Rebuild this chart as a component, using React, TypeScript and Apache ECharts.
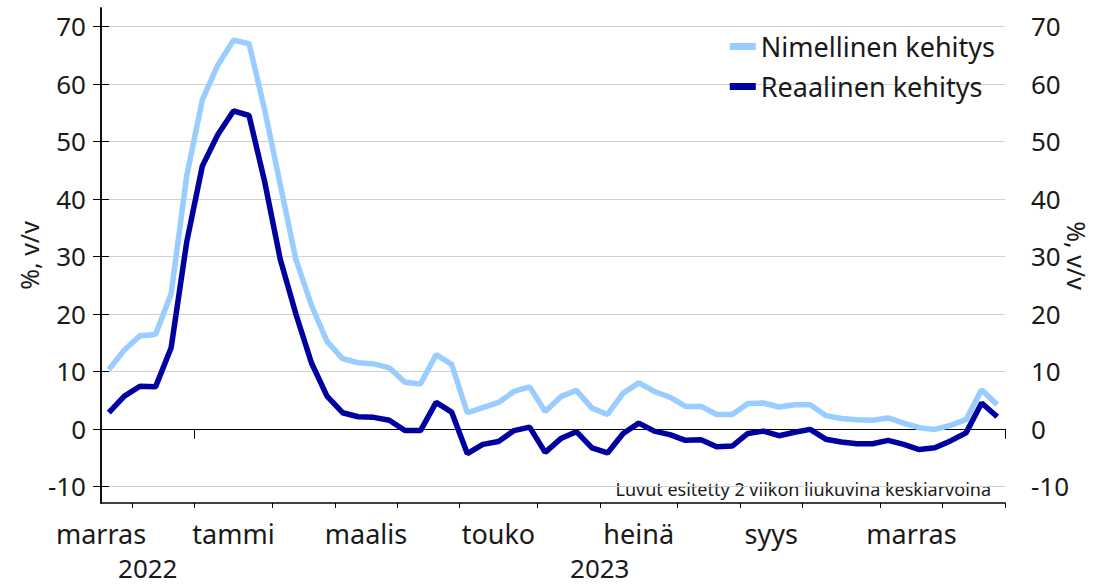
import React, { useEffect, useRef } from "react";
import * as echarts from "echarts";

// Weekly observations (Monday of each week)
const weeks: string[] = [
  "2022-11-21", "2022-11-28", "2022-12-05", "2022-12-12", "2022-12-19", "2022-12-26",
  "2023-01-02", "2023-01-09", "2023-01-16", "2023-01-23", "2023-01-30",
  "2023-02-06", "2023-02-13", "2023-02-20", "2023-02-27",
  "2023-03-06", "2023-03-13", "2023-03-20", "2023-03-27",
  "2023-04-03", "2023-04-10", "2023-04-17", "2023-04-24",
  "2023-05-01", "2023-05-08", "2023-05-15", "2023-05-22", "2023-05-29",
  "2023-06-05", "2023-06-12", "2023-06-19", "2023-06-26",
  "2023-07-03", "2023-07-10", "2023-07-17", "2023-07-24", "2023-07-31",
  "2023-08-07", "2023-08-14", "2023-08-21", "2023-08-28",
  "2023-09-04", "2023-09-11", "2023-09-18", "2023-09-25",
  "2023-10-02", "2023-10-09", "2023-10-16", "2023-10-23", "2023-10-30",
  "2023-11-06", "2023-11-13", "2023-11-20", "2023-11-27",
  "2023-12-04", "2023-12-11", "2023-12-18", "2023-12-25",
];

const nominal: number[] = [
  10.3, 13.7, 16.2, 16.4, 23.5, 44.0,
  57.2, 63.3, 67.6, 67.0, 55.5,
  42.5, 29.5, 21.5, 15.2,
  12.2, 11.5, 11.3, 10.6,
  8.1, 7.8, 12.9, 11.2,
  2.8, 3.7, 4.6, 6.5, 7.3,
  3.0, 5.6, 6.7, 3.6,
  2.5, 6.2, 8.0, 6.5, 5.5,
  3.9, 3.9, 2.5, 2.5,
  4.4, 4.5, 3.8, 4.2,
  4.2, 2.3, 1.8, 1.6, 1.5,
  1.9, 1.0, 0.2, -0.1,
  0.6, 1.6, 6.8, 4.2,
];

const real: number[] = [
  2.8, 5.7, 7.4, 7.3, 14.1, 32.5,
  45.7, 51.2, 55.3, 54.5, 43.0,
  29.5, 20.0, 11.5, 5.7,
  2.8, 2.1, 2.0, 1.5,
  -0.3, -0.3, 4.6, 2.9,
  -4.3, -2.7, -2.2, -0.3, 0.3,
  -4.1, -1.7, -0.5, -3.3,
  -4.2, -0.8, 1.0, -0.4, -1.0,
  -2.0, -1.9, -3.1, -3.0,
  -0.8, -0.4, -1.2, -0.6,
  -0.1, -1.8, -2.3, -2.6, -2.6,
  -2.0, -2.7, -3.6, -3.3,
  -2.1, -0.7, 4.5, 2.1,
];

const yTicks: number[] = [-10, 0, 10, 20, 30, 40, 50, 60, 70];
const monthKeys: string[] = ["2022-11", "2023-01", "2023-03", "2023-05", "2023-07", "2023-09", "2023-11"];
const monthNames: string[] = ["marras", "tammi", "maalis", "touko", "heinä", "syys", "marras"];
const yearNames: string[] = ["2022", "2023"];

const FONT = "Noto Sans";
const DAY = 86400000;

function parseUTC(s: string): number {
  const [y, m, d] = s.split("-").map(Number);
  return Date.UTC(y, m - 1, d || 1);
}

// centre of a calendar month in week units relative to the first week
function monthCentre(key: string): number {
  const [y, m] = key.split("-").map(Number);
  const start = parseUTC(weeks[0]);
  let t = Date.UTC(y, m - 1, 1);
  while (new Date(t).getUTCDay() !== 1) t += DAY;
  let count = 0;
  let u = t;
  while (new Date(u).getUTCMonth() === m - 1) {
    count++;
    u += 7 * DAY;
  }
  return (t - start) / (7 * DAY) + count / 2;
}

function yearCentre(year: string): number {
  const idx = weeks.map((w, i) => (w.startsWith(year) ? i : -1)).filter((i) => i >= 0);
  return (idx[0] + idx[idx.length - 1] + 1) / 2;
}

// boundaries (in week units) where a new year begins, plus the axis end
function yearBoundaries(): number[] {
  const b: number[] = [];
  for (let i = 1; i < weeks.length; i++) {
    if (weeks[i].slice(0, 4) !== weeks[i - 1].slice(0, 4)) b.push(i);
  }
  b.push(weeks.length);
  return b;
}

export default function App() {
  const ref = useRef<HTMLDivElement>(null);

  useEffect(() => {
    if (!ref.current) return;
    const chart = echarts.init(ref.current, undefined, { renderer: "svg" });
    const monthPos = monthKeys.map(monthCentre);
    const yearPos = yearNames.map(yearCentre);
    const yearTicks = yearBoundaries();
    const textColor = "#1a1a1a";
    const yMin = -12.9;
    const yMax = 73.2;

    const yAxisBase = {
      type: "value",
      min: yMin,
      max: yMax,
      name: "%, v/v",
      nameLocation: "middle",
      nameMoveOverlap: false,
      nameTextStyle: { fontSize: 25, color: textColor, fontFamily: FONT },
      axisLine: { show: true, lineStyle: { color: "#000", width: 1.5 } },
      axisTick: { show: true, customValues: yTicks, length: 8, lineStyle: { color: "#000" } },
      axisLabel: {
        customValues: yTicks,
        fontSize: 26,
        color: textColor,
        fontFamily: FONT,
      },
    };

    chart.setOption({
      animation: false,
      textStyle: { fontFamily: FONT },
      grid: { left: 101, right: 88, top: 8, bottom: 82, containLabel: false, outerBoundsMode: "none" },
      legend: {
        orient: "vertical",
        right: 93,
        top: 28,
        itemGap: 13,
        icon: "rect",
        itemWidth: 26,
        itemHeight: 7,
        textStyle: { fontSize: 27, color: textColor, fontFamily: FONT },
        data: ["Nimellinen kehitys", "Reaalinen kehitys"],
      },
      xAxis: [
        {
          type: "category",
          data: weeks,
          position: "bottom",
          boundaryGap: true,
          axisLine: { show: true, onZero: false, lineStyle: { color: "#000", width: 1.5 } },
          axisTick: {
            show: true,
            length: 5,
            lineStyle: { color: "#000" },
            interval: (i: number) => i > 0 && weeks[i].slice(0, 7) !== weeks[i - 1].slice(0, 7),
          },
          axisLabel: { show: false },
          splitLine: { show: false },
        },
        {
          type: "value",
          min: 0,
          max: weeks.length,
          position: "bottom",
          axisLine: { show: false },
          axisTick: { show: true, customValues: yearTicks, length: 10, lineStyle: { color: "#000" } },
          splitLine: { show: false },
          axisLabel: {
            customValues: monthPos,
            showMinLabel: true,
            showMaxLabel: true,
            margin: 17,
            fontSize: 27,
            lineHeight: 27,
            color: textColor,
            fontFamily: FONT,
            formatter: (v: number) => {
              const i = monthPos.findIndex((p) => Math.abs(p - v) < 1e-6);
              return i >= 0 ? monthNames[i] : "";
            },
          },
        },
        {
          type: "value",
          min: 0,
          max: weeks.length,
          position: "bottom",
          offset: 34,
          axisLine: { show: false },
          axisTick: { show: false },
          splitLine: { show: false },
          axisLabel: {
            customValues: yearPos,
            showMinLabel: true,
            showMaxLabel: true,
            margin: 18,
            fontSize: 26,
            lineHeight: 26,
            color: textColor,
            fontFamily: FONT,
            formatter: (v: number) => {
              const i = yearPos.findIndex((p) => Math.abs(p - v) < 1e-6);
              return i >= 0 ? yearNames[i] : "";
            },
          },
        },
      ],
      yAxis: [
        {
          ...yAxisBase,
          position: "left",
          nameGap: 60,
          nameRotate: 90,
          axisLabel: { ...yAxisBase.axisLabel, margin: 15 },
          splitLine: {
            show: true,
            lineStyle: {
              color: yTicks.map((v) => (v === 0 ? "#000" : "#d0d0d0")),
              width: 1,
            },
          },
        },
        {
          ...yAxisBase,
          position: "right",
          nameGap: 59,
          nameRotate: -90,
          axisLabel: { ...yAxisBase.axisLabel, margin: 26 },
          splitLine: { show: false },
        },
      ],
      graphic: [
        {
          type: "text",
          right: 102,
          top: 480,
          style: {
            text: "Luvut esitetty 2 viikon liukuvina keskiarvoina",
            fontSize: 18,
            fill: textColor,
            fontFamily: FONT,
          },
        },
      ],
      series: [
        {
          name: "Nimellinen kehitys",
          type: "line",
          xAxisIndex: 0,
          yAxisIndex: 0,
          data: nominal,
          showSymbol: false,
          symbol: "none",
          itemStyle: { color: "#99ccff" },
          lineStyle: { color: "#99ccff", width: 5.5 },
          z: 3,
        },
        {
          name: "Reaalinen kehitys",
          type: "line",
          xAxisIndex: 0,
          yAxisIndex: 0,
          data: real,
          showSymbol: false,
          symbol: "none",
          itemStyle: { color: "#0000a0" },
          lineStyle: { color: "#0000a0", width: 5.5 },
          z: 4,
        },
      ],
    });

    return () => chart.dispose();
  }, []);

  return (
    <div
      ref={ref}
      style={{ position: "fixed", left: 0, top: 0, width: 1093, height: 585, background: "#fff" }}
    />
  );
}
